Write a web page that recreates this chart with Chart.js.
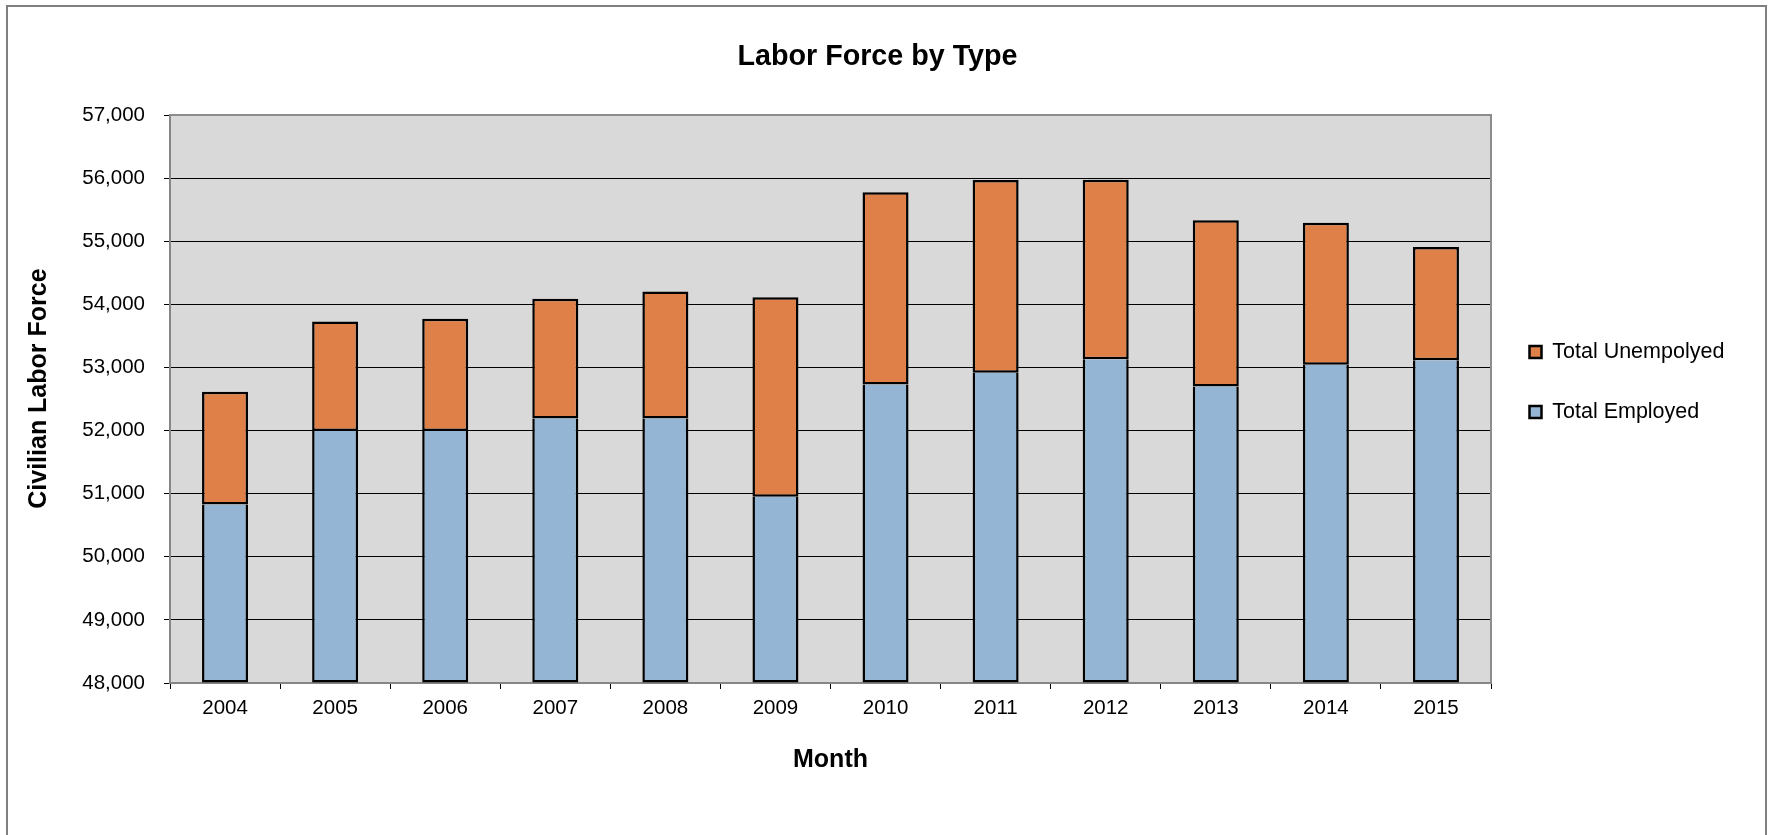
<!DOCTYPE html>
<html>
<head>
<meta charset="utf-8">
<title>Labor Force by Type</title>
<script src="https://cdn.jsdelivr.net/npm/chart.js@4.4.1/dist/chart.umd.min.js"></script>
<style>
  html, body { margin: 0; padding: 0; background: #ffffff; overflow: hidden; }
  canvas { display: block; }
</style>
</head>
<body>
<canvas id="myChart" width="1773" height="835"></canvas>
<script>
// yearly labor force, split into employed and unemployed
const years = ["2004", "2005", "2006", "2007", "2008", "2009", "2010", "2011", "2012", "2013", "2014", "2015"];
const employed = [50830, 51995, 51995, 52190, 52192, 50950, 52732, 52918, 53130, 52698, 53045, 53113];
const unemployed = [1785, 1735, 1777, 1898, 2010, 3162, 3043, 3054, 2845, 2633, 2248, 1795];

// value axis range
const yMin = 48000;
const yMax = 57000;
const yStep = 1000;

const fontFamily = "'Liberation Sans', Arial, Helvetica, sans-serif";

// white page, outer frame and grey plot area
const plotBackground = {
	id: "plotBackground",
	beforeDraw(chart) {
		const ctx = chart.ctx;
		const a = chart.chartArea;
		ctx.save();
		ctx.fillStyle = "#ffffff";
		ctx.fillRect(0, 0, chart.width, chart.height);
		ctx.strokeStyle = "#7f7f7f";
		ctx.lineWidth = 2;
		ctx.strokeRect(7, 6, 1759, 840);
		ctx.fillStyle = "#d9d9d9";
		ctx.fillRect(a.left, a.top, a.right - a.left, a.bottom - a.top);
		ctx.restore();
	},
	afterDatasetsDraw(chart) {
		const ctx = chart.ctx;
		const a = chart.chartArea;
		ctx.save();
		ctx.strokeStyle = "#8c8c8c";
		ctx.lineWidth = 2;
		ctx.beginPath();
		ctx.moveTo(a.left, a.top);
		ctx.lineTo(a.right, a.top);
		ctx.lineTo(a.right, a.bottom);
		ctx.stroke();
		ctx.restore();
	}
};

var ctx = document.getElementById("myChart").getContext("2d");
var myChart = new Chart(ctx, {
	type: "bar",
	data: {
		labels: years,
		datasets: [{
			label: "Total Employed",
			data: employed,
			backgroundColor: "#95b5d4",
			borderColor: "#000000",
			borderWidth: 2.5,
			borderSkipped: "end",
			base: yMin
		}, {
			label: "Total Unempolyed",
			data: unemployed,
			backgroundColor: "#de8048",
			borderColor: "#000000",
			borderWidth: 2.5,
			borderSkipped: false
		}]
	},
	options: {
		responsive: false,
		animation: false,
		devicePixelRatio: 1,
		categoryPercentage: 1,
		barPercentage: 0.418,
		layout: {
			padding: { left: 24, right: 42, top: 0, bottom: 71 }
		},
		plugins: {
			title: {
				display: true,
				text: "Labor Force by Type",
				color: "#000000",
				font: { family: fontFamily, size: 28.7, weight: "bold" },
				padding: { top: 39.8, bottom: 40.8 }
			},
			legend: {
				position: "right",
				reverse: true,
				maxWidth: 240,
				labels: {
					color: "#000000",
					font: { family: fontFamily, size: 21.5 },
					boxWidth: 12,
					boxHeight: 12,
					padding: 38.5
				}
			},
			tooltip: { enabled: false }
		},
		scales: {
			x: {
				stacked: true,
				afterFit: function(scale) { scale.height = 81; },
				grid: {
					offset: true,
					drawOnChartArea: false,
					drawTicks: true,
					tickLength: 6,
					color: "#000000"
				},
				border: { display: true, color: "#868686", width: 2 },
				ticks: {
					color: "#000000",
					font: { family: fontFamily, size: 20.5 },
					padding: 7,
					maxRotation: 0
				},
				title: {
					display: true,
					text: "Month",
					color: "#000000",
					font: { family: fontFamily, size: 25, weight: "bold" },
					padding: { top: 0, bottom: -11 }
				}
			},
			y: {
				stacked: true,
				min: yMin,
				max: yMax,
				afterFit: function(scale) { scale.width = 146; },
				grid: {
					color: "#000000",
					lineWidth: 1,
					drawTicks: true,
					tickLength: 6
				},
				border: { display: true, color: "#868686", width: 2 },
				ticks: {
					stepSize: yStep,
					color: "#000000",
					font: { family: fontFamily, size: 20.5 },
					padding: 19
				},
				title: {
					display: true,
					text: "   Civilian Labor Force",
					color: "#000000",
					font: { family: fontFamily, size: 25, weight: "bold" },
					padding: { top: 0, bottom: 40 }
				}
			}
		}
	},
	plugins: [plotBackground]
});
</script>
</body>
</html>
